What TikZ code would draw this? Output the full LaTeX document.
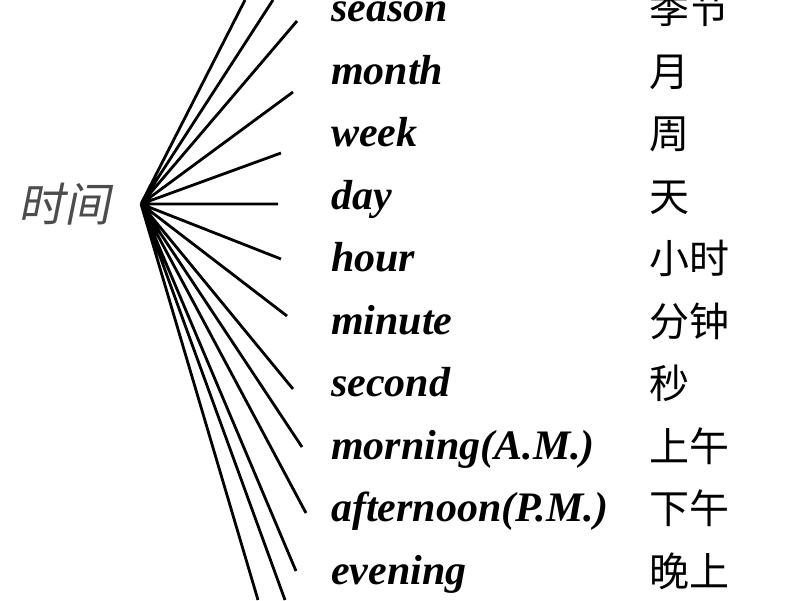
\documentclass[tikz,border=0pt]{standalone}
\usepackage{fontspec}
\setmainfont{Liberation Serif}
\newfontfamily\cjk{Noto Sans CJK SC}
\newfontfamily\cjkslant[FakeSlant=0.2]{Noto Sans CJK SC}
\usepackage{tikz}

\tikzset{
  word/.style={anchor=base west, inner sep=0pt, font=\fontsize{42}{42}\selectfont\bfseries\itshape},
  cn/.style={anchor=base west, inner sep=0pt, font=\fontsize{40}{40}\selectfont\cjk}
}

\begin{document}
\begin{tikzpicture}[x=1pt, y=-1pt]
            \useasboundingbox (0,0) rectangle (800,600);

            % The root word and where the lines meet
            \node[inner sep=0pt, text=black!70, font=\fontsize{46}{46}\selectfont\cjkslant] (root) at (64,204) {时间};
            \coordinate (hub) at (141,204);

            % Ends of the lines
            \coordinate (e1) at (245,0);
            \coordinate (e2) at (273,0);
            \coordinate (e3) at (297,21);
            \coordinate (e4) at (293,92);
            \coordinate (e5) at (281,153);
            \coordinate (e6) at (278,204);
            \coordinate (e7) at (281,259);
            \coordinate (e8) at (287,316);
            \coordinate (e9) at (293,389);
            \coordinate (e10) at (302,447);
            \coordinate (e11) at (306,513);
            \coordinate (e12) at (296,571);
            \coordinate (e13) at (285,600);
            \coordinate (e14) at (258,600);

            % Draw the lines
            \draw[line width=2.8pt] (hub) -- (e1) (hub) -- (e2) (hub) -- (e3) (hub) -- (e4)
              (hub) -- (e5) (hub) -- (e6) (hub) -- (e7) (hub) -- (e8) (hub) -- (e9)
              (hub) -- (e10) (hub) -- (e11) (hub) -- (e12) (hub) -- (e13) (hub) -- (e14);

            % English words
            \node[word] (season) at (331,21) {season};
            \node[word] (month) at (331,84) {month};
            \node[word] (week) at (331,146) {week};
            \node[word] (day) at (331,209) {day};
            \node[word] (hour) at (331,271) {hour};
            \node[word] (minute) at (331,334) {minute};
            \node[word] (second) at (331,396) {second};
            \node[word] (morning) at (331,459) {morning(A.M.)};
            \node[word] (afternoon) at (331,521) {afternoon(P.M.)};
            \node[word] (evening) at (331,584) {evening};

            % Chinese words
            \node[cn] (jijie) at (649,23) {季节};
            \node[cn] (yue) at (649,86) {月};
            \node[cn] (zhou) at (649,148) {周};
            \node[cn] (tian) at (649,211) {天};
            \node[cn] (xiaoshi) at (649,273) {小时};
            \node[cn] (fenzhong) at (649,336) {分钟};
            \node[cn] (miao) at (649,398) {秒};
            \node[cn] (shangwu) at (649,461) {上午};
            \node[cn] (xiawu) at (649,523) {下午};
            \node[cn] (wanshang) at (649,586) {晚上};
        \end{tikzpicture}
\end{document}
